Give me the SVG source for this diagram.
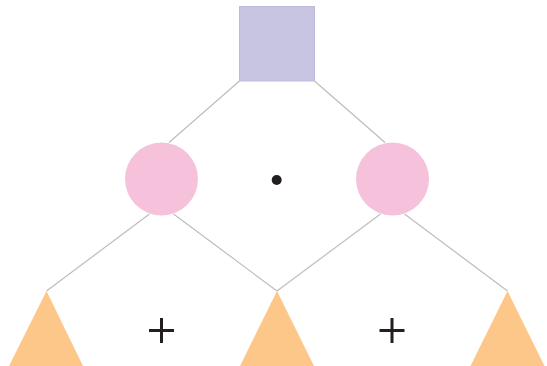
<svg xmlns="http://www.w3.org/2000/svg" width="547" height="366" viewBox="0 0 547 366">
<style>
.edge{stroke:#bdbdbd;stroke-width:1.2;fill:none}
.sq{fill:#c8c5e2;stroke:#bdb9dc;stroke-width:1}
.ci{fill:#f6c1da}
.tr{fill:#fdc78a}
.op{stroke:#231f20;stroke-width:3;fill:none}
</style>
<rect width="547" height="366" fill="#ffffff"/>
<g id="connectors">
<line class="edge" x1="239.5" y1="81" x2="169" y2="142.5"/>
<line class="edge" x1="314.5" y1="81" x2="385" y2="142.5"/>
<line class="edge" x1="149.5" y1="214" x2="46.5" y2="291"/>
<line class="edge" x1="173.5" y1="214" x2="277" y2="291"/>
<line class="edge" x1="380.5" y1="214" x2="277" y2="291"/>
<line class="edge" x1="404.5" y1="214" x2="507.5" y2="291"/>
</g>
<g id="root"><rect class="sq" x="239.5" y="6.5" width="75" height="74.5"/></g>
<g id="circle-left"><circle class="ci" cx="161.5" cy="179" r="36.5"/></g>
<g id="circle-right"><circle class="ci" cx="392.5" cy="179" r="36.5"/></g>
<g id="dot"><circle cx="276.7" cy="180" r="5" fill="#231f20"/></g>
<g id="tri-left"><polygon class="tr" points="46.5,291 9,366 83,366"/></g>
<g id="tri-mid"><polygon class="tr" points="277,291 240,366 314,366"/></g>
<g id="tri-right"><polygon class="tr" points="507.5,291 470.5,366 544.5,366"/></g>
<g id="plus-left"><path class="op" d="M149 330.5H174M161.5 318V343"/></g>
<g id="plus-right"><path class="op" d="M379.5 330.5H404.5M392 318V343"/></g>
</svg>
